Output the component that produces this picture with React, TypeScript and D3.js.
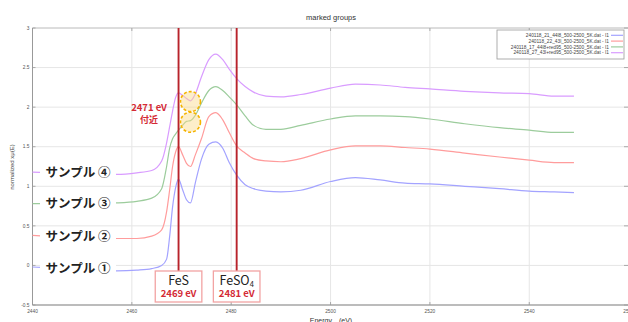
import * as d3 from 'd3';

// X-ray absorption near S K-edge, four samples (offset stacked)
const energy = [2440, 2450, 2457, 2461, 2464, 2466, 2467, 2467.6, 2468.2, 2468.8, 2469.4, 2470.2, 2471, 2471.8, 2472.8, 2474, 2475.5, 2476.9, 2478.3, 2479.6, 2481.1, 2482.8, 2484.5, 2487, 2490, 2494, 2500, 2505, 2510, 2515, 2520, 2527, 2534, 2540, 2545, 2549];
const sample1 = [-0.02, -0.05, -0.07, -0.06, -0.04, 0.0, 0.08, 0.36, 0.74, 0.98, 1.09, 0.96, 0.83, 0.79, 1.05, 1.34, 1.53, 1.56, 1.48, 1.3, 1.14, 1.02, 0.97, 0.94, 0.93, 0.95, 1.06, 1.11, 1.08, 1.04, 1.03, 1.0, 0.97, 0.94, 0.93, 0.92];
const sample2 = [0.38, 0.35, 0.34, 0.34, 0.37, 0.45, 0.68, 0.95, 1.25, 1.43, 1.5, 1.4, 1.29, 1.25, 1.4, 1.6, 1.88, 1.93, 1.84, 1.68, 1.51, 1.42, 1.35, 1.32, 1.31, 1.35, 1.46, 1.51, 1.51, 1.49, 1.47, 1.42, 1.37, 1.33, 1.3, 1.3];
const sample3 = [0.78, 0.78, 0.79, 0.81, 0.85, 0.97, 1.25, 1.48, 1.6, 1.66, 1.71, 1.77, 1.82, 1.83, 1.9, 2.05, 2.21, 2.26, 2.21, 2.13, 2.03, 1.89, 1.77, 1.72, 1.72, 1.77, 1.85, 1.89, 1.89, 1.88, 1.85, 1.79, 1.74, 1.71, 1.68, 1.68];
const sample4 = [1.18, 1.16, 1.15, 1.17, 1.2, 1.32, 1.55, 1.75, 1.95, 2.12, 2.18, 2.15, 2.11, 2.08, 2.17, 2.38, 2.6, 2.67, 2.6, 2.48, 2.36, 2.26, 2.19, 2.14, 2.13, 2.16, 2.24, 2.29, 2.28, 2.25, 2.23, 2.2, 2.18, 2.17, 2.14, 2.14];

const legendNames = [
  '240118_21_44l8_500-2500_5K.dat - I1',
  '240118_22_43l_500-2500_5K.dat - I1',
  '240118_17_44l8+red95_500-2500_5K.dat - I1',
  '240118_27_43l+red95_500-2500_5K.dat - I1',
];
const sampleLabels = ['サンプル ①', 'サンプル ②', 'サンプル ③', 'サンプル ④'];
const lineColors = ['#a3a3ff', '#ff9c9c', '#9ccc9c', '#d99cff'];

const xTicks = [2440, 2460, 2480, 2500, 2520, 2540, 2560];
const yTicks = [-0.5, 0, 0.5, 1, 1.5, 2, 2.5, 3];

const refEnergies = [2469.4, 2481.1];
const refLabels = ['2469 eV', '2481 eV'];
const highlightEnergy = 2471.8;
const highlightValues = [2.07, 1.81];

const W = 628;
const H = 322;
const margin = { top: 28, right: 0, bottom: 17, left: 32.5 };

export default function App() {
  const series = [sample1, sample2, sample3, sample4];
  const x = d3.scaleLinear().domain([2440, 2560]).range([margin.left, 628.6]);
  const y = d3.scaleLinear().domain([-0.5, 3]).range([H - margin.bottom, margin.top]);
  const line = d3.line<number>()
    .x((_, i) => x(energy[i]))
    .y(d => y(d))
    .curve(d3.curveMonotoneX);

  const sans = 'Liberation Sans, Arial, sans-serif';
  const jp = '"Noto Sans CJK JP", sans-serif';
  const red = '#d42a35';
  const top = y(3);
  const bottom = y(-0.5);
  const boxTop = 271;

  return (
    <div style={{ position: 'absolute', left: 0, top: 0 }}>
      <svg width={W} height={H} style={{ display: 'block', background: '#fff' }}>
        <text x={331} y={20} textAnchor="middle" fontFamily={sans} fontSize={7.5} fill="#333">marked groups</text>

        {/* grid */}
        {xTicks.map(t => (
          <line key={'gx' + t} x1={x(t)} x2={x(t)} y1={top} y2={bottom} stroke="#e6e6e6" strokeWidth={1} />
        ))}
        {yTicks.map(t => (
          <line key={'gy' + t} x1={margin.left} x2={W} y1={y(t)} y2={y(t)} stroke="#e6e6e6" strokeWidth={1} />
        ))}

        {/* frame */}
        <line x1={margin.left} x2={W} y1={top} y2={top} stroke="#bbb" strokeWidth={0.8} />
        <line x1={margin.left} x2={margin.left} y1={top} y2={bottom} stroke="#999" strokeWidth={1} />
        <line x1={margin.left} x2={W} y1={bottom} y2={bottom} stroke="#aaa" strokeWidth={1.6} />
        {xTicks.map(t => (
          <g key={'tx' + t}>
            <line x1={x(t)} x2={x(t)} y1={top} y2={top + 3} stroke="#999" strokeWidth={0.8} />
            <line x1={x(t)} x2={x(t)} y1={bottom} y2={bottom - 3} stroke="#999" strokeWidth={0.8} />
            <text x={x(t)} y={bottom + 8} textAnchor="middle" fontFamily={sans} fontSize={4.8} fill="#555">{t}</text>
          </g>
        ))}
        {yTicks.map(t => (
          <g key={'ty' + t}>
            <line x1={margin.left} x2={margin.left + 3} y1={y(t)} y2={y(t)} stroke="#999" strokeWidth={0.8} />
            <line x1={W - 4} x2={W} y1={y(t)} y2={y(t)} stroke="#999" strokeWidth={0.8} />
            <text x={margin.left - 3} y={y(t)} dy="0.35em" textAnchor="end" fontFamily={sans} fontSize={4.8} fill="#555">{t}</text>
          </g>
        ))}
        <text transform={`translate(14,167) rotate(-90)`} textAnchor="middle" fontFamily={sans} fontSize={6} fill="#444">normalized xμ(E)</text>
        <text x={331} y={323} textAnchor="middle" fontFamily={sans} fontSize={7} fill="#333">Energy　(eV)</text>

        {/* spectra */}
        {series.map((s, i) => (
          <path key={'s' + i} d={line(s) ?? ''} fill="none" stroke={lineColors[i]} strokeWidth={1.2} />
        ))}

        {/* sample labels */}
        {series.map((s, i) => {
          const cy = y((s[0] + s[1]) / 2);
          return (
            <g key={'lab' + i}>
              <rect x={40} y={cy - 9} width={76} height={18} fill="#fff" />
              <text x={45.5} y={cy} dy="0.36em" fontFamily={jp} fontWeight={700} fontSize={12.5} fill="#222">{sampleLabels[i]}</text>
            </g>
          );
        })}

        {/* reference lines */}
        {refEnergies.map((e, i) => (
          <line key={'r' + i} x1={x(e)} x2={x(e)} y1={top} y2={boxTop} stroke="#b8232b" strokeWidth={1.9} />
        ))}

        {/* highlight circles */}
        {highlightValues.map((v, i) => (
          <circle key={'c' + i} cx={x(highlightEnergy)} cy={y(v)} r={10} fill="#fbd98a" fillOpacity={0.45}
            stroke="#f5b400" strokeWidth={1.6} strokeDasharray="3,2" />
        ))}
        <text x={149} y={111} textAnchor="middle" fontFamily={jp} fontWeight={700} fontSize={9.5} fill={red}>2471 eV</text>
        <text x={149} y={123} textAnchor="middle" fontFamily={jp} fontWeight={700} fontSize={9} fill={red}>付近</text>

        {/* reference boxes */}
        {refEnergies.map((e, i) => (
          <g key={'rb' + i}>
            <rect x={x(e) - 23.3} y={boxTop} width={46.6} height={31} fill="#fff" stroke="#f2a3a3" strokeWidth={1.3} />
            <text x={x(e)} y={boxTop + 13.5} textAnchor="middle" fontFamily={jp} fontSize={12.5} fill="#222">
              {i === 0 ? 'FeS' : <><tspan>FeSO</tspan><tspan fontSize={7.5} dy={2.5}>4</tspan></>}
            </text>
            <text x={x(e)} y={boxTop + 26} textAnchor="middle" fontFamily={jp} fontWeight={700} fontSize={9.5} fill={red}>{refLabels[i]}</text>
          </g>
        ))}

        {/* legend */}
        <rect x={497} y={30} width={127} height={29} fill="#fff" stroke="#999" strokeWidth={0.8} />
        {legendNames.map((n, i) => (
          <g key={'lg' + i}>
            <text x={609} y={35.3 + i * 5.8} dy="0.35em" textAnchor="end" fontFamily={sans} fontSize={4.8} fill="#444">{n}</text>
            <line x1={611} x2={623} y1={35.3 + i * 5.8} y2={35.3 + i * 5.8} stroke={lineColors[i]} strokeWidth={1.2} />
          </g>
        ))}
      </svg>
    </div>
  );
}
